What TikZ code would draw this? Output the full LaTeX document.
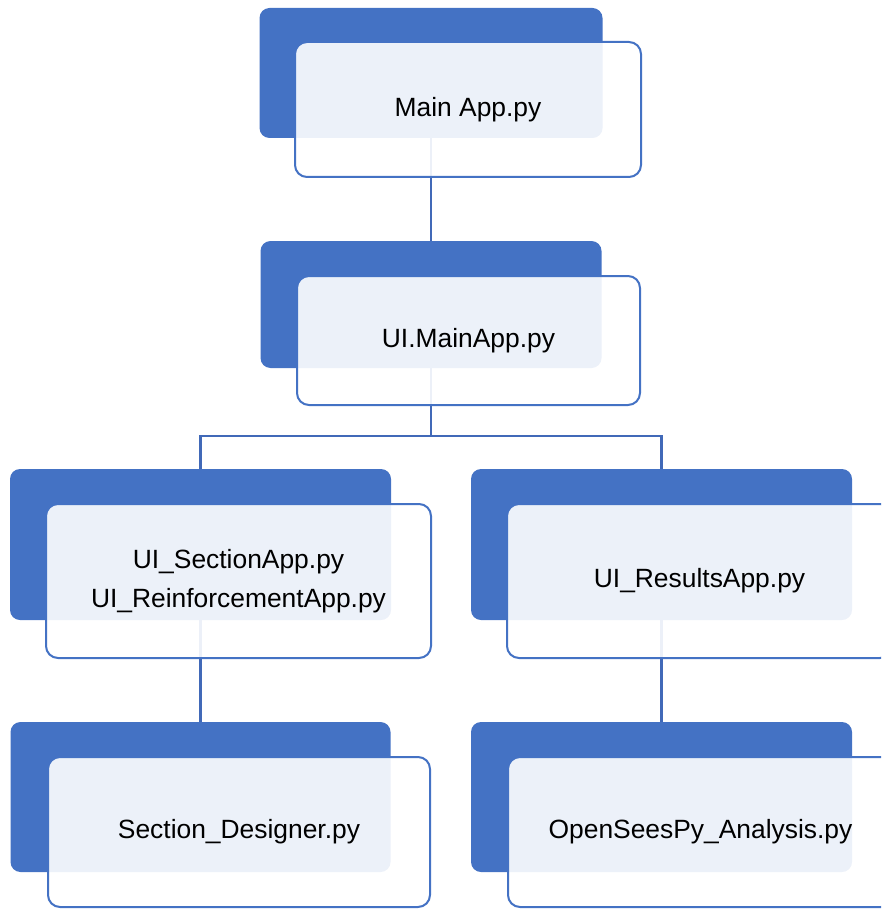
\documentclass[tikz,border=0pt]{standalone}
\usepackage{fontspec}
\setmainfont{Liberation Sans}
\definecolor{acc}{HTML}{4472C4}
\definecolor{conn}{HTML}{4169B8}
\begin{document}
\begin{tikzpicture}[x=1pt,y=-1pt,
  backbox/.style={draw=none, fill=acc, rounded corners=10pt, inner sep=0pt},
  frontbox/.style={draw=acc, line width=2pt, fill=white, fill opacity=0.9, draw opacity=1, text opacity=1,
    rounded corners=12pt, inner sep=0pt, align=center, font=\fontsize{26.4}{39}\selectfont},
  link/.style={draw=conn, line width=2.4pt}]
\useasboundingbox (0,0) rectangle (881,909);
\clip (0,0) rectangle (881,909);
% back boxes
\node[backbox, minimum width=343pt, minimum height=130pt] (d1) at (431,73) {};
\node[backbox, minimum width=341pt, minimum height=127pt] (d2) at (431,304.5) {};
\node[backbox, minimum width=381pt, minimum height=151pt] (d3) at (200.5,544.5) {};
\node[backbox, minimum width=381pt, minimum height=151pt] (d4) at (661.5,544.5) {};
\node[backbox, minimum width=380pt, minimum height=150pt] (d5) at (200.5,797) {};
\node[backbox, minimum width=381pt, minimum height=150pt] (d6) at (661.5,797) {};
% connectors
\coordinate (j) at (431,436);
\draw[link] (d1.south) -- (d2.north);
\draw[link] (d2.south) -- (j);
\draw[link] (j) -| (d3.north);
\draw[link] (j) -| (d4.north);
\draw[link] (d3.south) -- (d5.north);
\draw[link] (d4.south) -- (d6.north);
% front boxes
\node[frontbox, minimum width=346pt, minimum height=135pt] (f1) at (468,109.5) {Main App.py};
\node[frontbox, minimum width=343pt, minimum height=129pt] (f2) at (468.5,340.5) {UI.MainApp.py};
\node[frontbox, minimum width=385pt, minimum height=154pt] (f3) at (238.5,581) {UI\_SectionApp.py\\UI\_ReinforcementApp.py};
\node[frontbox, minimum width=385pt, minimum height=154pt] (f4) at (699.5,581) {UI\_ResultsApp.py};
\node[frontbox, minimum width=382pt, minimum height=150pt] (f5) at (239,832) {Section\_Designer.py};
\node[frontbox, minimum width=385pt, minimum height=150pt] (f6) at (700.5,832) {OpenSeesPy\_Analysis.py};
\end{tikzpicture}
\end{document}
